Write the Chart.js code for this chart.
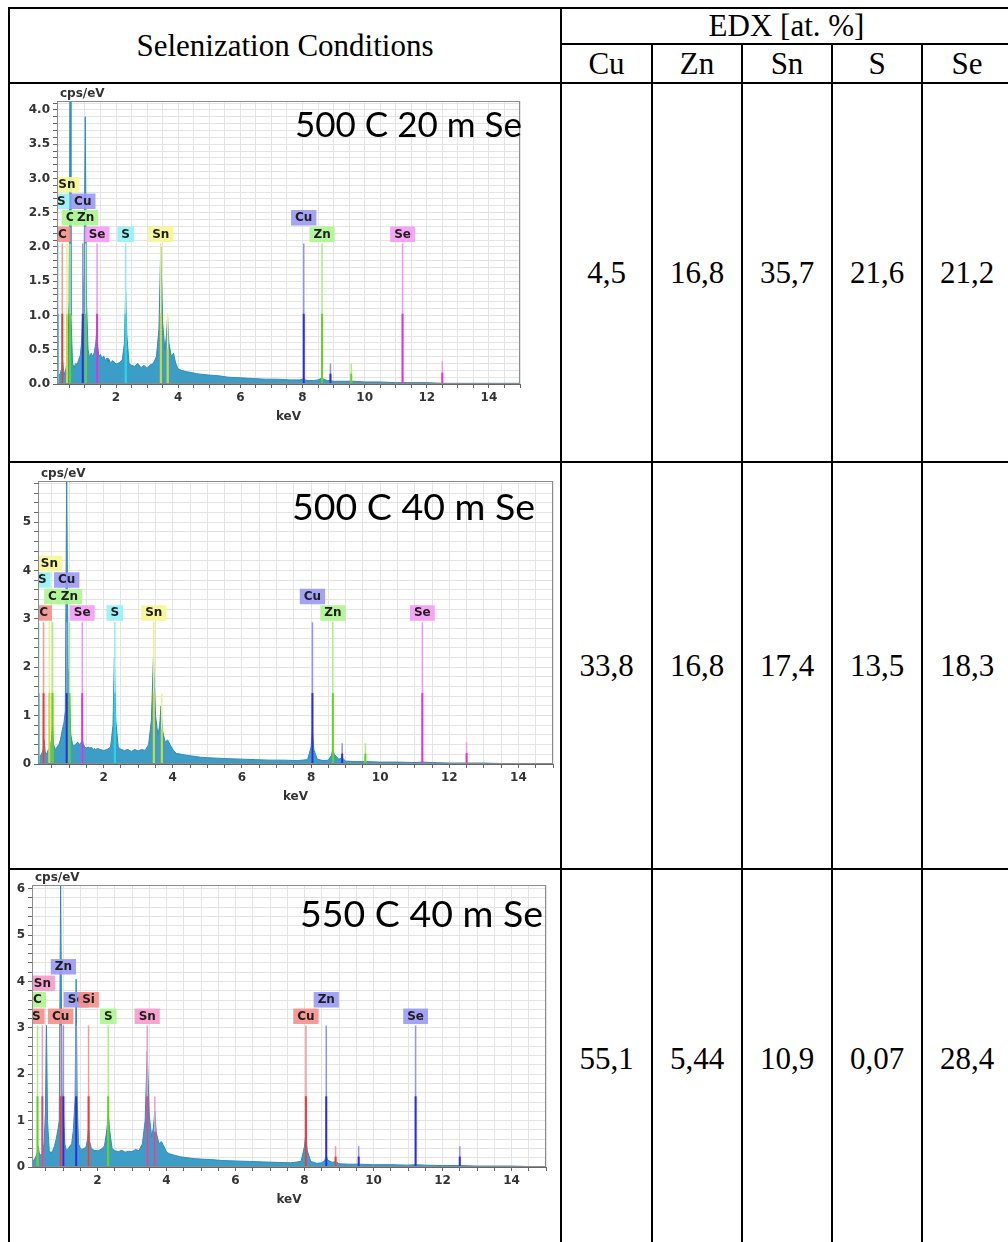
<!DOCTYPE html>
<html>
<head>
<meta charset="utf-8">
<script src="https://cdn.jsdelivr.net/npm/chart.js@4.4.1/dist/chart.umd.min.js"></script>
<style>
  html, body { margin: 0; padding: 0; background: #fff; }
  body { width: 1008px; height: 1242px; overflow: hidden; position: relative;
         font-family: "Liberation Serif", "Times New Roman", serif; }
  .cell { position: absolute; box-sizing: border-box; border: 2px solid #000;
          display: flex; align-items: center; justify-content: center;
          font-size: 31px; color: #000; white-space: nowrap; }
  .plot { position: absolute; }
</style>
</head>
<body>
<div id="sheet"></div>
<div class="plot" style="left:11px;top:85px;width:548px;height:376px"><canvas id="edx1"></canvas></div>
<div class="plot" style="left:11px;top:464px;width:548px;height:403px"><canvas id="edx2"></canvas></div>
<div class="plot" style="left:11px;top:871px;width:548px;height:371px"><canvas id="edx3"></canvas></div>
<script>
// ---- table contents ----
const elements = ['Cu', 'Zn', 'Sn', 'S', 'Se'];
const conditions = ['500 C 20 m Se', '500 C 40 m Se', '550 C 40 m Se'];
const edx500_20 = [4.5, 16.8, 35.7, 21.6, 21.2];
const edx500_40 = [33.8, 16.8, 17.4, 13.5, 18.3];
const edx550_40 = [55.1, 5.44, 10.9, 0.07, 28.4];

// ---- spectra (energy grid shared by all three) ----
const keV = [0.10, 0.15, 0.20, 0.25, 0.28, 0.31, 0.35, 0.40, 0.45, 0.49,
  0.52, 0.55, 0.60, 0.65, 0.70, 0.75, 0.80, 0.85, 0.89, 0.93,
  0.97, 1.01, 1.05, 1.10, 1.15, 1.20, 1.25, 1.30, 1.35, 1.38,
  1.41, 1.45, 1.50, 1.55, 1.60, 1.66, 1.71, 1.74, 1.77, 1.82,
  1.90, 2.00, 2.10, 2.20, 2.27, 2.31, 2.35, 2.42, 2.50, 2.60,
  2.70, 2.80, 2.90, 3.00, 3.10, 3.20, 3.30, 3.38, 3.44, 3.50,
  3.57, 3.62, 3.66, 3.70, 3.78, 3.85, 3.92, 4.00, 4.10, 4.25,
  4.40, 4.60, 4.80, 5.00, 5.30, 5.60, 6.00, 6.40, 6.80, 7.20,
  7.60, 7.90, 8.00, 8.04, 8.08, 8.18, 8.35, 8.50, 8.59, 8.63,
  8.67, 8.80, 8.90, 9.00, 9.30, 9.60, 10.0, 10.5, 11.0, 11.22,
  11.5, 12.0, 12.5, 13.0, 13.5, 14.0, 14.5, 15.0];

const cps500_20 = [0.05, 0.12, 0.15, 0.22, 0.35, 0.2, 0.14, 0.25, 0.5, 1.2,
  4.2, 1.0, 0.3, 0.24, 0.3, 0.28, 0.36, 0.42, 0.6, 1.1,
  1.6, 3.9, 1.2, 0.5, 0.38, 0.45, 0.4, 0.46, 0.6, 0.8,
  0.55, 0.4, 0.43, 0.37, 0.41, 0.34, 0.38, 0.32, 0.36, 0.31,
  0.34, 0.29, 0.31, 0.35, 0.6, 1.35, 0.7, 0.3, 0.27, 0.26,
  0.3, 0.24, 0.27, 0.23, 0.28, 0.3, 0.4, 0.8, 2.0, 0.9,
  0.5, 0.7, 0.98, 0.6, 0.4, 0.45, 0.3, 0.22, 0.2, 0.18,
  0.17, 0.15, 0.14, 0.13, 0.12, 0.1, 0.09, 0.08, 0.07, 0.07,
  0.06, 0.06, 0.07, 0.09, 0.06, 0.05, 0.05, 0.06, 0.08, 0.1,
  0.07, 0.05, 0.05, 0.04, 0.04, 0.04, 0.03, 0.03, 0.02, 0.02,
  0.02, 0.02, 0.01, 0.01, 0.01, 0.01, 0.01, 0.01];

const cps500_40 = [0.1, 0.15, 0.2, 0.3, 0.5, 0.25, 0.2, 0.3, 0.35, 0.5,
  0.8, 0.4, 0.3, 0.35, 0.4, 0.5, 0.7, 0.85, 1.1, 6.0,
  2.0, 1.5, 0.6, 0.4, 0.38, 0.42, 0.45, 0.4, 0.45, 0.5,
  0.42, 0.35, 0.33, 0.35, 0.33, 0.34, 0.3, 0.32, 0.3, 0.32,
  0.3, 0.28, 0.3, 0.35, 0.8, 2.2, 0.9, 0.35, 0.3, 0.28,
  0.3, 0.26, 0.3, 0.27, 0.3, 0.28, 0.4, 0.9, 2.2, 1.0,
  0.6, 0.8, 1.2, 0.7, 0.45, 0.5, 0.4, 0.3, 0.22, 0.2,
  0.18, 0.16, 0.14, 0.13, 0.12, 0.11, 0.1, 0.09, 0.08, 0.08,
  0.07, 0.09, 0.35, 0.68, 0.3, 0.1, 0.07, 0.08, 0.18, 0.3,
  0.2, 0.1, 0.13, 0.06, 0.05, 0.05, 0.04, 0.04, 0.03, 0.04,
  0.03, 0.02, 0.02, 0.02, 0.01, 0.01, 0.01, 0.01];

const cps550_40 = [0.1, 0.15, 0.2, 0.3, 0.45, 0.3, 0.25, 0.3, 0.5, 1.2,
  3.05, 1.0, 0.35, 0.3, 0.35, 0.45, 0.6, 0.8, 1.0, 6.2,
  1.6, 1.2, 0.5, 0.35, 0.4, 0.45, 0.5, 0.8, 1.5, 4.05,
  1.4, 0.5, 0.4, 0.38, 0.4, 0.42, 0.6, 0.85, 0.55, 0.4,
  0.36, 0.35, 0.38, 0.45, 0.8, 1.15, 0.8, 0.4, 0.35, 0.33,
  0.36, 0.32, 0.34, 0.33, 0.38, 0.35, 0.5, 1.0, 2.5, 1.1,
  0.65, 0.85, 1.2, 0.75, 0.5, 0.55, 0.45, 0.32, 0.28, 0.25,
  0.22, 0.2, 0.18, 0.17, 0.16, 0.14, 0.13, 0.12, 0.11, 0.1,
  0.09, 0.12, 0.45, 0.75, 0.35, 0.12, 0.08, 0.09, 0.15, 0.25,
  0.15, 0.1, 0.12, 0.07, 0.06, 0.06, 0.05, 0.05, 0.04, 0.05,
  0.04, 0.03, 0.03, 0.02, 0.02, 0.02, 0.01, 0.01];

// ---- element marker lines ----
const m1El  = ['S', 'C', 'Sn', 'C', 'Cu', 'Zn', 'Se', 'S', 'Sn', 'Sn', 'Cu', 'Zn', 'Se', 'Cu', 'Zn', 'Se'];
const m1KeV = [0.13, 0.27, 0.42, 0.52, 0.93, 1.02, 1.39, 2.31, 3.44, 3.66, 8.04, 8.63, 11.22, 8.90, 9.57, 12.50];
const m1Top = [2.05, 2.05, 2.05, 2.05, 2.05, 2.05, 2.05, 2.05, 2.05, 1.03, 2.05, 2.05, 2.05, 0.30, 0.30, 0.33];

const m2El  = m1El;
const m2KeV = [0.12, 0.26, 0.43, 0.52, 0.93, 1.01, 1.38, 2.32, 3.45, 3.68, 8.04, 8.63, 11.22, 8.90, 9.57, 12.50];
const m2Top = [2.93, 2.93, 2.93, 2.93, 2.93, 2.93, 2.93, 2.93, 2.93, 1.45, 2.93, 2.93, 2.93, 0.43, 0.43, 0.45];

const m3El  = ['S', 'C', 'Sn', 'Cu', 'Zn', 'Se', 'Si', 'S', 'Sn', 'Sn', 'Cu', 'Zn', 'Se', 'Cu', 'Zn', 'Se'];
const m3KeV = [0.10, 0.26, 0.40, 0.93, 1.01, 1.38, 1.74, 2.31, 3.44, 3.66, 8.04, 8.63, 11.22, 8.90, 9.57, 12.50];
const m3Top = [3.05, 3.05, 3.05, 3.05, 3.05, 3.05, 3.05, 3.05, 3.05, 1.52, 3.05, 3.05, 3.05, 0.45, 0.45, 0.45];

// label stacking rows (-1 = no label) and colours, as in the EDX software output
const m1Row = [2, 0, 3, 1, 2, 1, 0, 0, 0, -1, 1, 0, 0, -1, -1, -1];
const m1Col = ['cyan', 'red', 'yellow', 'green', 'blue', 'green', 'magenta', 'cyan', 'yellow', 'yellow',
               'blue', 'green', 'magenta', 'blue', 'green', 'magenta'];
const m3Row = [0, 1, 2, 0, 3, 1, 1, 0, 0, -1, 0, 1, 0, -1, -1, -1];
const m3Col = ['red', 'green', 'pink', 'red', 'blue', 'blue', 'red', 'green', 'pink', 'pink',
               'red', 'blue', 'blue', 'red', 'blue', 'blue'];

const palette = {
  red:     {box: 'rgba(245,145,140,0.92)', light: '#f49a96', dark: '#ec3b3b'},
  cyan:    {box: 'rgba(150,242,246,0.92)', light: '#86eef4', dark: '#22d4e4'},
  yellow:  {box: 'rgba(246,246,150,0.92)', light: '#eef07e', dark: '#d2d82a'},
  green:   {box: 'rgba(176,245,146,0.92)', light: '#a9f07e', dark: '#5ed41e'},
  blue:    {box: 'rgba(156,156,246,0.92)', light: '#9292f4', dark: '#2c2ce8'},
  magenta: {box: 'rgba(245,156,245,0.92)', light: '#f294f2', dark: '#de30de'},
  pink:    {box: 'rgba(246,156,204,0.92)', light: '#f49ac8', dark: '#e5409a'}
};

// ---- table grid ----
const colX = [9, 561, 652, 742, 832, 922, 1012];
const rowY = [8, 44, 83, 462, 869, 1248];
function cell(x1, y1, x2, y2, text) {
  const d = document.createElement('div');
  d.className = 'cell';
  d.style.left = (x1 - 1) + 'px';
  d.style.top = (y1 - 1) + 'px';
  d.style.width = (x2 - x1 + 2) + 'px';
  d.style.height = (y2 - y1 + 2) + 'px';
  d.textContent = text || '';
  document.getElementById('sheet').appendChild(d);
}
const fmt = v => String(v).replace('.', ',');
cell(colX[0], rowY[0], colX[1], rowY[2], 'Selenization Conditions');
cell(colX[1], rowY[0], colX[6], rowY[1], 'EDX [at. %]');
elements.forEach((el, i) => cell(colX[i + 1], rowY[1], colX[i + 2], rowY[2], el));
[edx500_20, edx500_40, edx550_40].forEach((vals, r) => {
  cell(colX[0], rowY[r + 2], colX[1], rowY[r + 3], '');
  vals.forEach((v, i) => cell(colX[i + 1], rowY[r + 2], colX[i + 2], rowY[r + 3], fmt(v)));
});

// ---- charts ----
const tickFont = {family: '"DejaVu Sans", Verdana, sans-serif', size: 12, weight: 'bold'};

function decor(opt) {
  return {
    id: 'edxDecor',
    afterDatasetsDraw(chart) {
      const {ctx, chartArea: a, scales: {x, y}} = chart;
      ctx.save();
      ctx.beginPath();
      ctx.rect(a.left, a.top, a.right - a.left, a.bottom - a.top);
      ctx.clip();
      ctx.font = 'bold 12px "DejaVu Sans"';
      ctx.textAlign = 'center';
      ctx.textBaseline = 'middle';
      const base = y.getPixelForValue(opt.labelBase) - 1.5;
      opt.el.forEach((el, i) => {
        const row = opt.row[i];
        if (row < 0) return;
        const w = ctx.measureText(el).width + 8;
        // boxes near the left edge are pushed in so the letter stays readable
        const cx = Math.max(x.getPixelForValue(opt.keV[i]), a.left - 4 + w / 2);
        const bottom = base - row * 16.5;
        ctx.fillStyle = palette[opt.col[i]].box;
        ctx.fillRect(cx - w / 2, bottom - 15.5, w, 15.5);
        ctx.fillStyle = '#1e1e1e';
        ctx.fillText(el, cx, bottom - 7.5);
      });
      ctx.restore();

      ctx.save();
      ctx.strokeStyle = '#8c8c8c';
      ctx.lineWidth = 1;
      ctx.strokeRect(a.left + 0.5, a.top + 0.5, a.right - a.left - 1, a.bottom - a.top - 1);
      ctx.fillStyle = '#333';
      ctx.font = 'bold 12px "DejaVu Sans"';
      ctx.textAlign = 'left';
      ctx.textBaseline = 'bottom';
      ctx.fillText('cps/eV', a.left + 3, a.top - 1);
      ctx.fillStyle = '#000';
      ctx.font = opt.titleSize + 'px Lato';
      ctx.textBaseline = 'alphabetic';
      ctx.fillText(opt.title, a.left + opt.titleDx, a.top + opt.titleDy);
      ctx.restore();
    }
  };
}

function datasets(counts, el, e, top, col) {
  const out = [{
    data: keV.map((k, i) => ({x: k, y: counts[i]})),
    fill: 'origin',
    backgroundColor: '#3c9ec7',
    borderColor: '#2e8cbc',
    borderWidth: 1,
    pointRadius: 0,
    order: 3
  }];
  e.forEach((k, i) => {
    const c = palette[col[i]];
    out.push({data: [{x: k, y: 0}, {x: k, y: top[i]}], borderColor: c.light,
              borderWidth: 1.5, pointRadius: 0, order: 2});
    out.push({data: [{x: k, y: 0}, {x: k, y: top[i] / 2}], borderColor: c.dark,
              borderWidth: 2, pointRadius: 0, order: 1});
  });
  return out;
}

function makeChart(id, counts, el, e, top, row, col, cfg) {
  const onEvery = (v, n) => Math.abs(v / n - Math.round(v / n)) < 1e-6;
  new Chart(document.getElementById(id), {
    type: 'line',
    data: {datasets: datasets(counts, el, e, top, col)},
    options: {
      responsive: true,
      maintainAspectRatio: false,
      animation: false,
      events: [],
      layout: {padding: cfg.pad},
      plugins: {legend: {display: false}, tooltip: {enabled: false}},
      scales: {
        x: {
          type: 'linear', min: 0.1, max: 15,
          ticks: {stepSize: 0.5, includeBounds: false, autoSkip: false, maxRotation: 0, padding: 3,
                  color: '#333', font: tickFont,
                  callback: v => (v > 0 && onEvery(v, 2)) ? String(v) : ''},
          grid: {color: '#e4e4e4', tickLength: 4, tickColor: '#666'},
          border: {color: '#666'},
          title: {display: true, text: 'keV', color: '#333', font: tickFont, padding: 0},
          afterFit(s) { s.height = 40; s.paddingLeft = 0; s.paddingRight = 0; }
        },
        y: {
          type: 'linear', min: 0, max: cfg.yMax,
          ticks: {stepSize: cfg.yStep, includeBounds: false, autoSkip: false, padding: 3,
                  color: '#333', font: tickFont,
                  callback: v => onEvery(v, cfg.yLabel) ? v.toFixed(cfg.yDec) : ''},
          grid: {color: '#e4e4e4', tickLength: 4, tickColor: '#666'},
          border: {color: '#666'},
          afterFit(s) { s.width = cfg.yWidth; s.paddingTop = 0; s.paddingBottom = 0; }
        }
      }
    },
    plugins: [decor({el: el, keV: e, row: row, col: col, labelBase: cfg.labelBase,
                     title: cfg.title, titleSize: cfg.titleSize,
                     titleDx: cfg.titleDx, titleDy: cfg.titleDy})]
  });
}

makeChart('edx1', cps500_20, m1El, m1KeV, m1Top, m1Row, m1Col, {
  pad: {left: 0, top: 16, right: 39, bottom: 37}, yWidth: 46,
  yMax: 4.13, yStep: 0.1, yLabel: 0.5, yDec: 1, labelBase: 2.05,
  title: conditions[0], titleSize: 35, titleDx: 238, titleDy: 36
});
makeChart('edx2', cps500_40, m2El, m2KeV, m2Top, m1Row, m1Col, {
  pad: {left: 0, top: 17, right: 6, bottom: 63}, yWidth: 27,
  yMax: 5.85, yStep: 0.2, yLabel: 1, yDec: 0, labelBase: 2.93,
  title: conditions[1], titleSize: 37.5, titleDx: 254, titleDy: 39
});
makeChart('edx3', cps550_40, m3El, m3KeV, m3Top, m3Row, m3Col, {
  pad: {left: 0, top: 14, right: 13, bottom: 35}, yWidth: 21,
  yMax: 6.08, yStep: 0.2, yLabel: 1, yDec: 0, labelBase: 3.05,
  title: conditions[2], titleSize: 37.5, titleDx: 268, titleDy: 42
});
</script>
</body>
</html>
